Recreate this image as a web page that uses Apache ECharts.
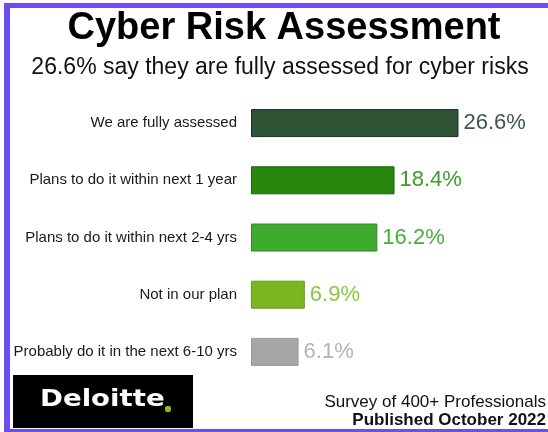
<!DOCTYPE html>
<html>
<head>
<meta charset="utf-8">
<script src="https://cdn.jsdelivr.net/npm/echarts@6/dist/echarts.min.js"></script>
<style>
  html, body { margin: 0; padding: 0; background: #fff; }
  #chart { width: 548px; height: 432px; }
</style>
</head>
<body>
<div id="chart"></div>
<script>
// ---- data ----
const categories = [
  'We are fully assessed',
  'Plans to do it within next 1 year',
  'Plans to do it within next 2-4 yrs',
  'Not in our plan',
  'Probably do it in the next 6-10 yrs'
];
const values = [26.6, 18.4, 16.2, 6.9, 6.1];

// ---- styling ----
const barColors   = ['#2d5234', '#27870f', '#3eab2f', '#7bb51f', '#a5a6a8'];
const barBorders  = ['#1b301e', '#1c5f0c', '#2f8a25', '#679a17', '#9a9b9d'];
const labelColors = ['#3b5946', '#3c9b2e', '#48ae3a', '#8cc63f', '#b4b4b4'];

const chart = echarts.init(document.getElementById('chart'), null, { renderer: 'canvas' });
const FONT = 'Liberation Sans, Arial, Helvetica, sans-serif';

chart.setOption({
  backgroundColor: '#ffffff',
  animation: false,
  title: [
    {
      text: 'Cyber Risk Assessment',
      left: 279, top: 5, textAlign: 'center',
      textStyle: { fontFamily: FONT, fontSize: 38, fontWeight: 'bold', color: '#000' }
    },
    {
      text: '26.6% say they are fully assessed for cyber risks',
      left: 275, top: 51, textAlign: 'center',
      textStyle: { fontFamily: FONT, fontSize: 23, fontWeight: 'normal', color: '#111' }
    }
  ],
  grid: { left: 251, right: 24, top: 94.5, bottom: 51.5, containLabel: false },
  xAxis: {
    type: 'value', min: 0, max: 35,
    show: false
  },
  yAxis: {
    type: 'category', data: categories, inverse: true,
    axisLine: { show: false }, axisTick: { show: false }, splitLine: { show: false },
    axisLabel: { fontFamily: FONT, fontSize: 15, color: '#1a1a1a', margin: 14 }
  },
  series: [{
    type: 'bar',
    barWidth: 28,
    data: values.map((v, i) => ({
      value: v,
      itemStyle: { color: barColors[i], borderColor: barBorders[i], borderWidth: 1 },
      label: { color: labelColors[i] }
    })),
    label: {
      show: true, position: 'right', distance: 5,
      fontFamily: FONT, fontSize: 22,
      formatter: p => p.value.toFixed(1) + '%'
    }
  }],
  graphic: [
    // purple frame: top, left, bottom
    { type: 'rect', shape: { x: 4, y: 3, width: 544, height: 5 }, style: { fill: '#6a4ef2' }, silent: true },
    { type: 'rect', shape: { x: 4, y: 3, width: 6, height: 429 }, style: { fill: '#6a4ef2' }, silent: true },
    { type: 'rect', shape: { x: 4, y: 429, width: 544, height: 3 }, style: { fill: '#6a4ef2' }, silent: true },
    // Deloitte logo box
    { type: 'rect', shape: { x: 13, y: 375, width: 180, height: 53 }, style: { fill: '#000' }, silent: true },
    {
      type: 'text', x: 40, y: 400, scaleX: 1.2, scaleY: 1,
      style: { text: 'Deloitte', fill: '#fff', font: 'bold 23px "DejaVu Sans", sans-serif', textVerticalAlign: 'middle' }
    },
    { type: 'rect', shape: { x: 165, y: 406, width: 6, height: 6, r: 2 }, style: { fill: '#86bc25' }, silent: true },
    // footer
    {
      type: 'text', right: 2, top: 394,
      style: { text: 'Survey of 400+ Professionals', fill: '#111', font: '17px ' + FONT, textAlign: 'right' }
    },
    {
      type: 'text', right: 2, top: 412,
      style: { text: 'Published October 2022', fill: '#111', font: 'bold 17px ' + FONT, textAlign: 'right' }
    }
  ]
});
</script>
</body>
</html>
